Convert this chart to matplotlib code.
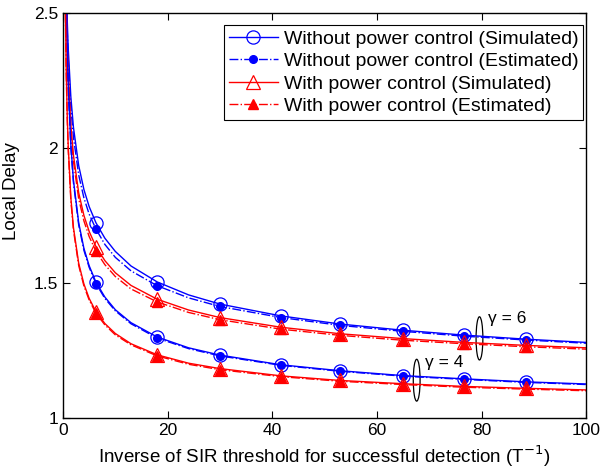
import numpy as np
import matplotlib
matplotlib.use("Agg")
import matplotlib.pyplot as plt
from matplotlib.patches import Ellipse

plt.rcParams['font.family'] = ['Liberation Sans', 'DejaVu Sans']

# inverse SIR threshold (T^-1)
x = [0.4, 0.6, 0.8, 1, 1.5, 2, 3, 4, 5, 6.3, 8, 10, 13, 18, 24, 30, 41.7, 53, 65, 76.7, 88.4, 100]
mark_idx = [9, 13, 15, 16, 17, 18, 19, 20]

# gamma = 6
nopc6_sim = [2.883, 2.636, 2.479, 2.369, 2.189, 2.076, 1.935, 1.846, 1.783, 1.723, 1.666, 1.617,
             1.563, 1.504, 1.456, 1.422, 1.378, 1.348, 1.325, 1.307, 1.292, 1.280]
nopc6_est = [2.840, 2.600, 2.440, 2.330, 2.150, 2.040, 1.900, 1.815, 1.755, 1.700, 1.643, 1.595,
             1.545, 1.490, 1.445, 1.413, 1.372, 1.343, 1.321, 1.303, 1.289, 1.277]
pc6_sim = [2.826, 2.553, 2.387, 2.271, 2.086, 1.973, 1.834, 1.750, 1.691, 1.635, 1.583, 1.538,
           1.491, 1.440, 1.400, 1.372, 1.336, 1.312, 1.294, 1.280, 1.269, 1.260]
pc6_est = [2.790, 2.520, 2.360, 2.245, 2.060, 1.950, 1.812, 1.730, 1.672, 1.618, 1.568, 1.524,
           1.478, 1.430, 1.391, 1.364, 1.329, 1.306, 1.288, 1.275, 1.264, 1.255]

# gamma = 4
nopc4_sim = [2.917, 2.577, 2.372, 2.232, 2.012, 1.880, 1.723, 1.628, 1.564, 1.503, 1.448, 1.401,
             1.353, 1.300, 1.260, 1.233, 1.197, 1.175, 1.157, 1.145, 1.134, 1.126]
nopc4_est = [2.900, 2.560, 2.358, 2.220, 2.002, 1.871, 1.715, 1.621, 1.558, 1.498, 1.443, 1.397,
             1.349, 1.296, 1.257, 1.230, 1.195, 1.173, 1.155, 1.143, 1.132, 1.124]
pc4_sim = [2.609, 2.306, 2.127, 2.005, 1.816, 1.705, 1.573, 1.496, 1.443, 1.394, 1.350, 1.313,
           1.275, 1.234, 1.203, 1.183, 1.156, 1.139, 1.127, 1.117, 1.110, 1.104]
pc4_est = [2.590, 2.290, 2.113, 1.993, 1.806, 1.696, 1.565, 1.489, 1.437, 1.388, 1.345, 1.308,
           1.271, 1.230, 1.199, 1.179, 1.153, 1.136, 1.124, 1.114, 1.107, 1.101]

fig = plt.figure(figsize=(6, 4.72), dpi=100)
ax = fig.add_axes([0.105, 0.1144, 0.872, 0.858])

lw = 1.0
sim_circ = dict(color='b', ls='-', lw=lw, marker='o', ms=9.5, mfc='none', mew=0.9, markevery=mark_idx)
est_dot = dict(color='b', ls='-.', lw=lw, marker='o', ms=5.5, mfc='b', markevery=mark_idx)
sim_tri = dict(color='r', ls='-', lw=lw, marker='^', ms=9.5, mfc='none', mew=0.9, markevery=mark_idx)
est_tri = dict(color='r', ls='-.', lw=lw, marker='^', ms=6.5, mfc='r', markevery=mark_idx)

ax.plot(x, nopc6_sim, label='Without power control (Simulated)', **sim_circ)
ax.plot(x, nopc6_est, label='Without power control (Estimated)', **est_dot)
ax.plot(x, pc6_sim, label='With power control (Simulated)', **sim_tri)
ax.plot(x, pc6_est, label='With power control (Estimated)', **est_tri)

ax.plot(x, nopc4_sim, **sim_circ)
ax.plot(x, nopc4_est, **est_dot)
ax.plot(x, pc4_sim, **sim_tri)
ax.plot(x, pc4_est, **est_tri)

# gamma groups
ax.add_patch(Ellipse((79.6, 1.295), 1.3, 0.16, fill=False, ec='k', lw=0.9))
ax.add_patch(Ellipse((67.6, 1.140), 1.3, 0.155, fill=False, ec='k', lw=0.9))
ax.text(81.2, 1.352, '\u03b3 = 6', fontsize=12.5)
ax.text(69.2, 1.19, '\u03b3 = 4', fontsize=12.5)

ax.set_xlim(0, 100)
ax.set_ylim(1, 2.5)
ax.set_xticks([0, 20, 40, 60, 80, 100])
ax.set_yticks([1, 1.5, 2, 2.5])
ax.set_yticklabels(['1', '1.5', '2', '2.5'])
ax.tick_params(direction='in', top=True, right=True, labelsize=12.5, length=5, width=0.8)
for s in ax.spines.values():
    s.set_linewidth(1.0)

ax.set_xlabel('Inverse of SIR threshold for successful detection (T$^{-1}$)', fontsize=13.5)
ax.set_ylabel('Local Delay', fontsize=13.5)
ax.yaxis.set_label_coords(-0.082, 0.56)

leg = ax.legend(loc='upper right', bbox_to_anchor=(0.994, 0.97), borderaxespad=0,
                fontsize=14, handlelength=2.5, handletextpad=0.3,
                borderpad=0.25, labelspacing=0.25, fancybox=False, framealpha=1,
                edgecolor='k')
leg.get_frame().set_linewidth(0.8)

fig.savefig('out.png', dpi=100)
